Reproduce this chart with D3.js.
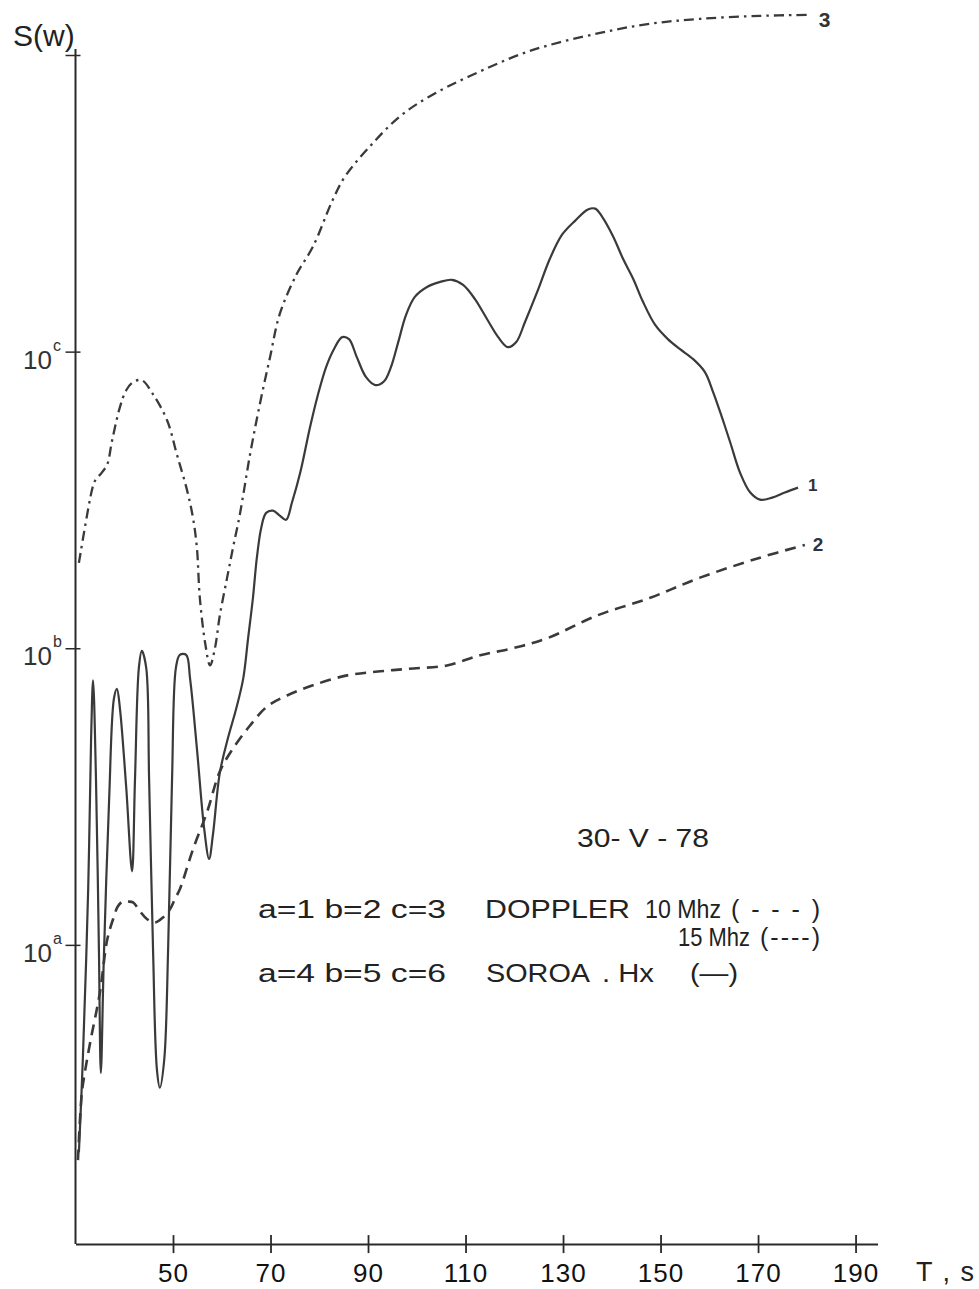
<!DOCTYPE html>
<html>
<head>
<meta charset="utf-8">
<script src="https://cdnjs.cloudflare.com/ajax/libs/d3/7.8.5/d3.min.js"></script>
<style>
  body { margin: 0; background: #fff; }
  svg { display: block; font-family: "Liberation Sans", Arial, sans-serif; }
</style>
</head>
<body>
<svg id="chart" width="979" height="1289"></svg>
<script>
// curve 1 : SOROA Hx (solid)
var soroaT = [30.7,31.5,32.6,33.2,33.6,34.2,34.8,35.2,35.8,36.9,
  37.9,38.5,39.1,40.4,41.6,42.2,43.0,43.6,44.5,45.1,
  45.9,46.7,47.3,48.2,49.0,49.8,50.6,51.4,52.7,53.5,
  54.9,56.4,57.4,58.2,59.6,61.3,62.9,64.4,65.4,66.4,
  67.2,68.1,69.1,70.5,71.9,73.2,74.4,76.1,78.1,79.7,
  81.4,83.0,84.7,86.1,87.7,89.6,91.5,93.3,94.7,96.2,
  97.8,99.6,102.1,104.8,107.2,109.5,111.9,114.4,116.7,118.7,
  120.4,122.2,124.7,127.3,129.8,132.5,135.1,136.6,138.0,140.3,
  142.3,144.4,146.4,148.9,151.5,154.0,156.7,159.1,160.8,162.6,
  164.3,166.3,168.4,170.4,172.9,175.5,178.2]
var soroaS = [2.0,4.1,15.4,49.6,78,36.3,9.7,3.7,8.9,31,
  68,73,63,34,17.7,36,86,98,86,36,
  9.7,3.8,3.3,4.1,9.7,36,86,95,95,79,
  46,24.6,19.5,23.6,38,50,62,79,108,148,
  202,255,286,291,280,271,310,391,556,713,
  887,1019,1119,1102,958,820,771,795,887,1077,
  1330,1529,1652,1718,1746,1679,1506,1288,1119,1035,
  1077,1259,1589,2056,2478,2765,3013,3035,2852,2440,
  2056,1758,1472,1230,1102,1019,943,853,729,600,
  494,391,335,317,322,335,348]

// curve 2 : DOPPLER 10 Mhz (dashed)
var dop10T = [30.5,31.3,31.9,33.0,35.0,36.5,37.7,38.7,39.7,40.8,
  41.8,43.2,44.7,46.3,48.0,49.4,50.4,51.4,54.1,57.0,
  59.6,62.3,65.8,69.3,73.4,78.7,85.7,92.5,99.3,106.2,
  113.0,119.7,126.7,137.0,147.9,158.1,170.4,179.6]
var dop10S = [1.88,3.17,3.7,4.68,6.9,10.4,12.2,13.5,14.0,14.0,
  13.9,13.0,12.2,11.9,12.4,13.2,14.3,15.4,21.0,28.1,
  38.4,45.9,54.9,63.6,69.3,75,81,83.6,85.5,87.5,
  94.7,100,108,129,148,173,202,223]

// curve 3 : DOPPLER 15 Mhz (dash-dot)
var dop15T = [30.7,33.4,34.0,35.4,36.5,37.5,39.1,40.4,41.8,43.6,
  45.9,48.8,50.8,52.9,54.1,54.9,55.5,56.6,57.6,58.6,
  59.6,61.1,62.3,63.7,65.8,67.8,69.9,71.9,75.4,78.7,
  82.8,85.3,90.4,96.6,102.7,110.9,123.2,137.6,147.8,158.1,
  170.4,180.0]
var dop15S = [194,343,367,391,416,501,649,741,789,801,
  718,586,450,340,275,218,148,104,87.5,100,
  129,173,218,282,450,664,958,1340,1829,2258,
  3260,3898,4922,6223,7262,8492,10320,11870,12740,13240,
  13550,13650]

var xTicks = [50, 70, 90, 110, 130, 150, 170, 190]
var yTicks = [10, 100, 1000, 10000]
var yTickLetters = ["a", "b", "c", ""]
var curveNames = ["1", "2", "3"]

var svg = d3.select("#chart")

var x = d3.scaleLinear().domain([30, 194.5]).range([75.5, 877.5])
var y = d3.scaleLog().domain([1, 10000]).range([1241.5, 55])
var axisY = y(0.98)
var ink = "#2a2a2a"

// x axis, ticks crossing the line
var xAxis = d3.axisBottom(x).tickValues(xTicks).tickSize(9).tickSizeOuter(0).tickPadding(10)
var gx = svg.append("g").attr("transform", "translate(0," + axisY + ")").call(xAxis)
gx.select(".domain").attr("stroke", ink).attr("stroke-width", 2)
gx.selectAll(".tick line").attr("y1", -9).attr("y2", 9).attr("stroke", ink).attr("stroke-width", 1.8)
gx.selectAll(".tick text").attr("fill", "#111").attr("font-size", 26).style("letter-spacing", "1px")

// y axis
var yAxis = d3.axisLeft(y).tickValues(yTicks).tickSize(10).tickFormat("")
var gy = svg.append("g").attr("transform", "translate(" + x(30) + ",0)").call(yAxis)
gy.select(".domain").remove()
gy.append("line").attr("y1", axisY).attr("y2", y(10000) - 6).attr("stroke", ink).attr("stroke-width", 2)
gy.selectAll(".tick line").attr("x1", 5).attr("x2", -10).attr("stroke", ink).attr("stroke-width", 1.5)

yTicks.forEach(function(v, i) {
  if (!yTickLetters[i]) return
  svg.append("text")
    .attr("x", 52).attr("y", y(v) + 17)
    .attr("text-anchor", "end")
    .attr("fill", "#333").attr("font-size", 26)
    .text("10")
  svg.append("text")
    .attr("x", 53).attr("y", y(v) - 1)
    .attr("fill", "#333").attr("font-size", 16)
    .text(yTickLetters[i])
})

svg.append("text").attr("x", 13).attr("y", 46).attr("font-size", 30).attr("fill", "#222").text("S(w)")
svg.append("text").attr("x", 916).attr("y", 1281).attr("font-size", 27).attr("fill", "#222")
  .attr("textLength", 58).attr("lengthAdjust", "spacing").text("T , s")

// curves
var line = d3.line()
  .x(function(d) { return x(d[0]) })
  .y(function(d) { return y(d[1]) })
  .curve(d3.curveCatmullRom.alpha(0.5))

var series = [
  { t: soroaT, s: soroaS, dash: null, w: 2.2, lx: 10, ly: 3, fs: 17 },
  { t: dop10T, s: dop10S, dash: "11,7", w: 2.6, lx: 8, ly: 6, fs: 19 },
  { t: dop15T, s: dop15S, dash: "10,5,2.5,5", w: 2.3, lx: 12, ly: 12, fs: 21 }
]

series.forEach(function(sr, i) {
  var pts = sr.t.map(function(t, k) { return [t, sr.s[k]] })
  var p = svg.append("path").datum(pts)
    .attr("fill", "none")
    .attr("stroke", "#3a3a3a")
    .attr("stroke-width", sr.w)
    .attr("stroke-linejoin", "round")
    .attr("d", line)
  if (sr.dash) p.attr("stroke-dasharray", sr.dash)
  var last = pts[pts.length - 1]
  svg.append("text")
    .attr("x", x(last[0]) + sr.lx).attr("y", y(last[1]) + sr.ly)
    .attr("font-size", sr.fs).attr("font-weight", "bold").attr("fill", "#333")
    .text(curveNames[i])
})

// legend block: text, x, baseline, width, how to fit
var legend = [
  ["30- V - 78", 577, 847, 132, "spacingAndGlyphs"],
  ["a=1  b=2  c=3", 258, 918, 188, "spacingAndGlyphs"],
  ["DOPPLER", 485, 918, 145, "spacingAndGlyphs"],
  ["10 Mhz", 645, 918, 76, "spacingAndGlyphs"],
  ["(---)", 731, 918, 89, "spacing"],
  ["15 Mhz", 678, 946, 72, "spacingAndGlyphs"],
  ["(----)", 760, 946, 60, "spacing"],
  ["a=4  b=5  c=6", 258, 982, 188, "spacingAndGlyphs"],
  ["SOROA", 486, 982, 104, "spacingAndGlyphs"],
  [". Hx", 602, 982, 52, "spacingAndGlyphs"],
  ["(\u2014)", 690, 982, 48, "spacingAndGlyphs"]
]
legend.forEach(function(l) {
  svg.append("text")
    .attr("x", l[1]).attr("y", l[2])
    .attr("font-size", 25).attr("fill", "#222")
    .attr("textLength", l[3]).attr("lengthAdjust", l[4])
    .text(l[0])
})
</script>
</body>
</html>
